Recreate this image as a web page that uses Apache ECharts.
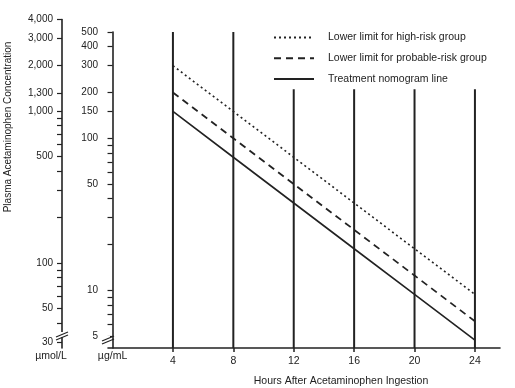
<!DOCTYPE html>
<html><head><meta charset="utf-8">
<script src="https://cdn.jsdelivr.net/npm/echarts@6/dist/echarts.min.js"></script>
<style>html,body{margin:0;padding:0;background:#fff}#c{width:515px;height:388px}</style>
</head><body><div id="c"></div>
<script>
// ---- data ----
const hours = [4, 8, 12, 16, 20, 24];
const highRisk = [300, 150, 75, 37.5, 18.75, 9.4];
const probableRisk = [200, 100, 50, 25, 12.5, 6.25];
const treatment = [150, 75, 37.5, 18.75, 9.4, 4.7];
const gridHours = [4, 8, 12, 16, 20, 24];
const gridTops = [500, 500, 210, 210, 210, 210];
const ugLabels = [5, 10, 50, 100, 150, 200, 300, 400, 500];
const ugTicks = [5, 6, 7, 8, 9, 10, 20, 30, 40, 50, 60, 70, 80, 90, 100, 150, 200, 300, 400, 500];
const umolLabels = [30, 50, 100, 500, 1000, 1300, 2000, 3000, 4000];
const umolTicks = [30, 40, 50, 60, 70, 80, 90, 100, 200, 300, 400, 500, 600, 700, 800, 900, 1000, 1300, 2000, 3000, 4000];
const seriesNames = ['Lower limit for high-risk group', 'Lower limit for probable-risk group', 'Treatment nomogram line'];
const xTickLabels = [4, 8, 12, 16, 20, 24];

// ---- layout ----
const W = 515, H = 388;
const FONT = "'Liberation Sans', Arial, sans-serif";
const INK = '#222';
const ugMin = 4.17, ugMax = 500;
const UMOL_PER_UG = 6.615;
const gridTop = 32, gridBottom = 40;
const pxPerDec = (H - gridBottom - gridTop) / Math.log10(ugMax / ugMin);
const umolMax = 4000, umolMin = ugMin * UMOL_PER_UG;
const leftTop = gridTop - Math.log10(umolMax / (ugMax * UMOL_PER_UG)) * pxPerDec;

const chart = echarts.init(document.getElementById('c'), null, {renderer: 'canvas'});

function zip(xs, ys) { return xs.map((x, i) => [x, ys[i]]); }

const lineSeries = [
  {name: seriesNames[0], data: zip(hours, highRisk), type: 'line', symbol: 'none',
   itemStyle: {color: INK},
   lineStyle: {color: INK, width: 1.6, type: [2, 3]}},
  {name: seriesNames[1], data: zip(hours, probableRisk), type: 'line', symbol: 'none',
   itemStyle: {color: INK},
   lineStyle: {color: INK, width: 1.8, type: [7, 5]}},
  {name: seriesNames[2], data: zip(hours, treatment), type: 'line', symbol: 'none',
   itemStyle: {color: INK},
   lineStyle: {color: INK, width: 1.6, type: 'solid'}}
];
const verticals = gridHours.map((h, i) => ({
  type: 'line', silent: true, symbol: 'none', xAxisIndex: 0, yAxisIndex: 0,
  data: [[h, ugMin], [h, gridTops[i]]],
  lineStyle: {color: INK, width: 2}, z: 1
}));

function breakMark(x, y) {
  return [
    {type: 'rect', shape: {x: x - 2, y: y - 4, width: 4, height: 5}, style: {fill: '#fff'}, z: 100},
    {type: 'line', shape: {x1: x - 6, y1: y + 1, x2: x + 6, y2: y - 4}, style: {stroke: INK, lineWidth: 1.2}, z: 101},
    {type: 'line', shape: {x1: x - 6, y1: y + 4, x2: x + 6, y2: y - 1}, style: {stroke: INK, lineWidth: 1.2}, z: 101}
  ];
}

const option = {
  backgroundColor: '#fff',
  animation: false,
  textStyle: {fontFamily: FONT, color: INK},
  grid: [
    {left: 108, right: 15, top: gridTop, bottom: gridBottom, outerBoundsMode: 'none', containLabel: false},
    {left: 62, width: 10, top: leftTop, bottom: gridBottom, outerBoundsMode: 'none', containLabel: false}
  ],
  xAxis: [
    {type: 'value', gridIndex: 0, min: -0.3, max: 25.66,
     axisLine: {lineStyle: {color: INK, width: 1.6}},
     axisTick: {customValues: xTickLabels, length: 4, lineStyle: {color: INK, width: 1.5}},
     axisLabel: {customValues: xTickLabels, color: INK, fontSize: 10.5, margin: 8, fontFamily: FONT},
     splitLine: {show: false},
     name: 'Hours After Acetaminophen Ingestion', nameLocation: 'middle', nameGap: 28,
     nameTextStyle: {color: INK, fontSize: 10.5, fontFamily: FONT, padding: [0, 0, 0, 74]}},
    {type: 'value', gridIndex: 1, show: false, min: 0, max: 1}
  ],
  yAxis: [
    {type: 'log', logBase: 10, gridIndex: 0, min: ugMin, max: ugMax, position: 'left',
     axisLine: {show: true, lineStyle: {color: INK, width: 1.6}},
     axisTick: {show: true, customValues: ugTicks, length: 5, lineStyle: {color: INK, width: 1.2}},
     axisLabel: {customValues: ugLabels, color: INK, fontSize: 10, margin: 10, fontFamily: FONT},
     splitLine: {show: false}, minorTick: {show: false},
     name: 'µg/mL', nameLocation: 'start', nameGap: 3,
     nameTextStyle: {color: INK, fontSize: 10.5, fontFamily: FONT}},
    {type: 'log', logBase: 10, gridIndex: 1, min: umolMin, max: umolMax, position: 'left',
     axisLine: {show: true, lineStyle: {color: INK, width: 1.6}},
     axisTick: {show: true, customValues: umolTicks, length: 5, lineStyle: {color: INK, width: 1.2}},
     axisLabel: {customValues: umolLabels, color: INK, fontSize: 10, margin: 9, fontFamily: FONT,
       formatter: v => Math.round(v).toLocaleString('en-US')},
     splitLine: {show: false}, minorTick: {show: false},
     name: 'µmol/L', nameLocation: 'start', nameGap: 3,
     nameTextStyle: {color: INK, fontSize: 10.5, fontFamily: FONT, padding: [0, 22, 0, 0]}}
  ],
  legend: {
    data: seriesNames, orient: 'vertical', left: 268, top: 27,
    itemWidth: 40, itemHeight: 14, itemGap: 9.5,
    itemStyle: {opacity: 0},
    textStyle: {color: INK, fontSize: 10.5, fontFamily: FONT, padding: [0, 0, 0, 9]},
    selectedMode: false
  },
  graphic: [
    {type: 'text', x: 8, y: 127, rotation: Math.PI / 2,
     style: {text: 'Plasma Acetaminophen Concentration', font: '10px ' + FONT, fill: INK,
             align: 'center', verticalAlign: 'middle'}},
    ...breakMark(108, 340),
    ...breakMark(62, 336)
  ],
  series: [...verticals, ...lineSeries]
};
chart.setOption(option);
</script></body></html>
